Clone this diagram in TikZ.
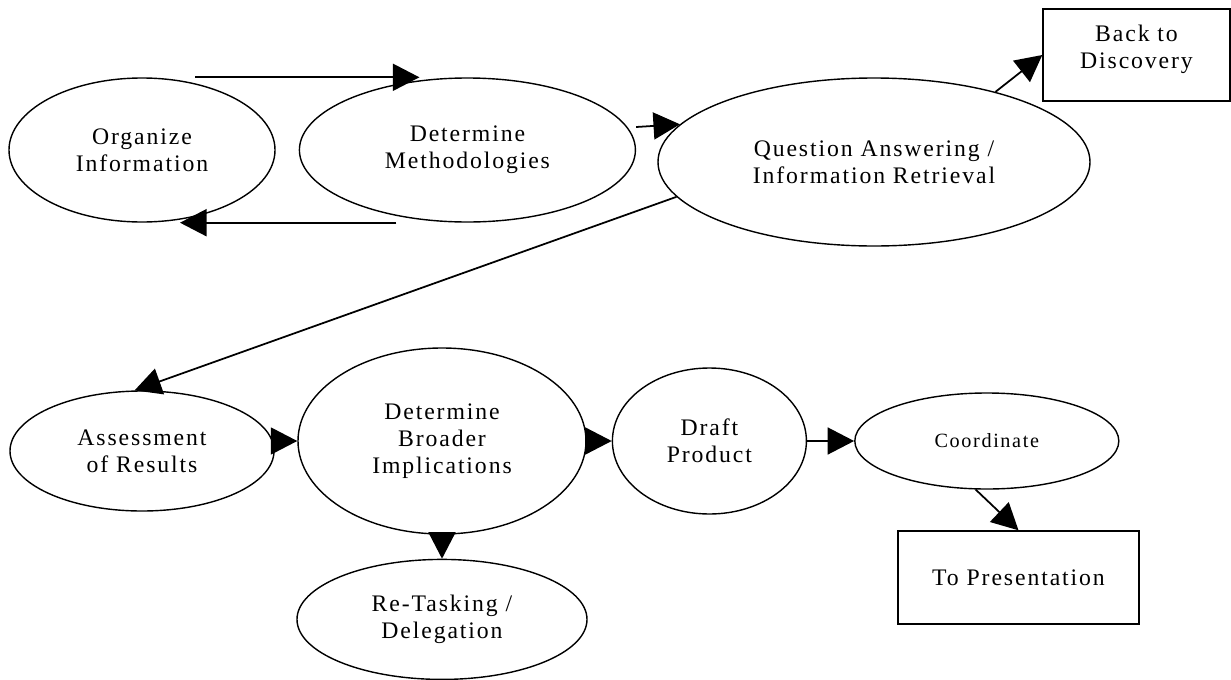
\documentclass[tikz,border=0pt]{standalone}
\usepackage{fontspec}
\setmainfont{Liberation Serif}[LetterSpace=8]
\usepackage{tikz}
\usetikzlibrary{arrows.meta, positioning, calc, shapes.geometric}
\tikzset{
x=0.2mm, y=-0.2mm,
>={Triangle[length=5.3mm,width=5.4mm]},
oval/.style={%
    ellipse,
    draw=black,
    line width=0.8pt,
    inner sep=0pt,
    align=center,
    % Font
    font=\fontsize{13.5}{15.5}\selectfont
},
box/.style={%
    oval, rectangle
},
link/.style={->, line width=1pt},
}

\begin{document}
\begin{tikzpicture}
	\useasboundingbox (0,0) rectangle (1231,679);
	% top row
	\node[oval, minimum width=5.32cm, minimum height=2.88cm] (org) at (142,150) {Organize\\Information};
	\node[oval, minimum width=6.72cm, minimum height=2.88cm, right=4.6mm of org] (dm) {Determine\\Methodologies};
	\node[oval, minimum width=8.64cm, minimum height=3.36cm] (qa) at (874,162) {Question Answering /\\Information Retrieval};
	\node[box, minimum width=3.74cm, minimum height=1.84cm, text depth=3.4mm] (back) at (1136.5,55) {Back to\\Discovery};
	% bottom row
	\node[oval, minimum width=5.28cm, minimum height=2.40cm] (assess) at (142,451) {Assessment\\of Results};
	\node[oval, minimum width=5.76cm, minimum height=3.72cm] (dbi) at (442,441) {Determine\\Broader\\Implications};
	\node[oval, minimum width=5.80cm, minimum height=2.40cm, below=4.8mm of dbi] (retask) {Re-Tasking /\\Delegation};
	\node[oval, minimum width=3.88cm, minimum height=2.92cm, right=5mm of dbi] (draft) {Draft\\Product};
	\node[oval, minimum width=5.28cm, minimum height=1.92cm, right=9.4mm of draft, font=\fontsize{11.5}{14}\selectfont] (coord) {Coordinate};
	\node[box, minimum width=4.82cm, minimum height=1.86cm] (topres) at (1018.5,577.5) {To Presentation};

	\draw[link] ($(org.north)+(53,0)$) -- ($(dm.north)+(-48,0)$);
	\draw[link] ($(dm.south)+(-71,0)$) -- ($(org.south)+(38,0)$);
	\draw[link] ($(dm.east)+(0,-23)$) -- (qa.169.5);
	\draw[link] (qa.30) -- (back.west);
	\draw[link] (qa.190) -- (assess.97);
	\draw[link] (assess.east |- dbi.west) -- (dbi.west);
	\draw[link] (dbi.east) -- (draft.west);
	\draw[link] (dbi.south) -- (retask.north);
	\draw[link] (draft.east) -- (coord.west);
	\draw[link] (coord.257) -- (topres.north);
\end{tikzpicture}
\end{document}
